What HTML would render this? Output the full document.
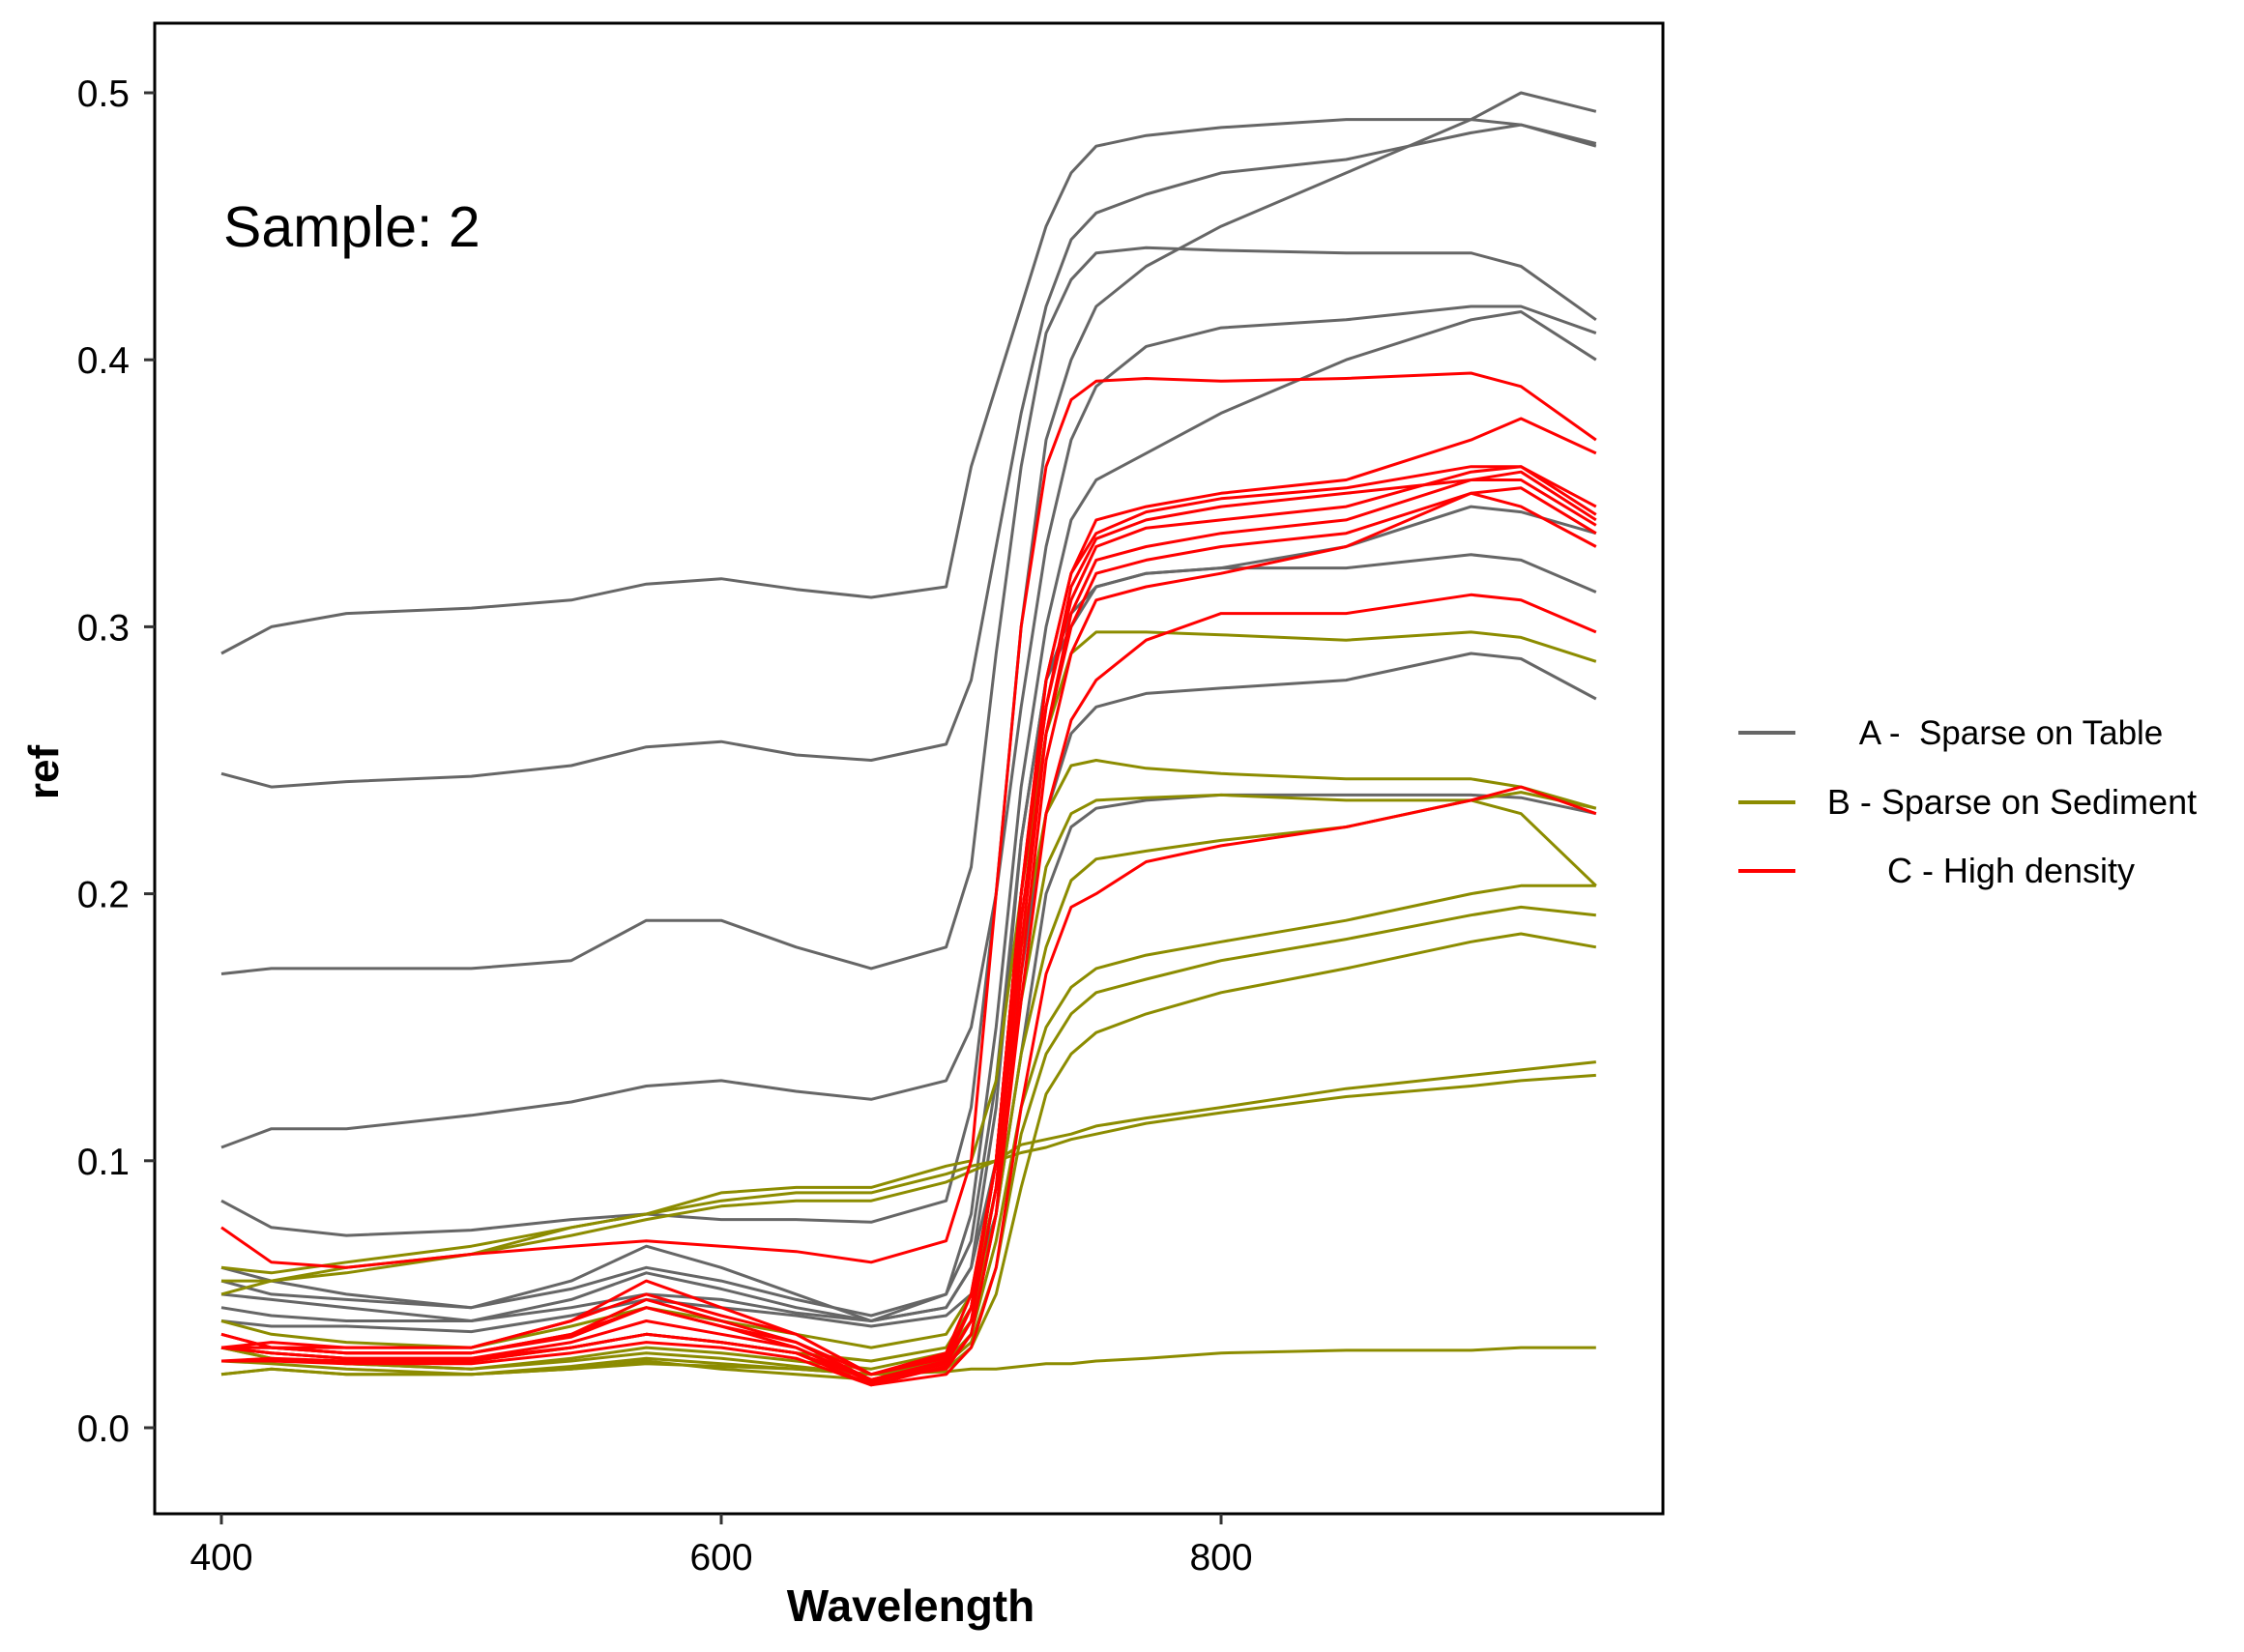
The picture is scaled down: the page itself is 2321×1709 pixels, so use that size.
<!DOCTYPE html>
<html><head><meta charset="utf-8"><style>
html,body{margin:0;padding:0;background:#fff;}
svg{display:block;font-family:"Liberation Sans",Arial,sans-serif;}
</style></head><body>
<svg id="chart" width="2321" height="1709" viewBox="0 0 2321 1709" xmlns="http://www.w3.org/2000/svg">
<rect x="0" y="0" width="2321" height="1709" fill="#fff"/>
<g id="plot"></g>
<g id="axes"></g>
<text x="231" y="255" font-size="59" fill="#000">Sample: 2</text>
<text x="942" y="1677" font-size="46" font-weight="bold" text-anchor="middle">Wavelength</text>
<text x="0" y="0" font-size="44" font-weight="bold" text-anchor="middle" transform="translate(60,799) rotate(-90)">ref</text>
<g>
  <line x1="1798" y1="758" x2="1857" y2="758" stroke="#666666" stroke-width="4"/>
  <text x="2080" y="770" font-size="35" text-anchor="middle">A -&#160; Sparse on Table</text>
  <line x1="1798" y1="830" x2="1857" y2="830" stroke="#8c8c00" stroke-width="4"/>
  <text x="2081" y="842" font-size="36" text-anchor="middle">B - Sparse on Sediment</text>
  <line x1="1798" y1="901" x2="1857" y2="901" stroke="#ff0000" stroke-width="4"/>
  <text x="2080" y="913" font-size="36" text-anchor="middle">C - High density</text>
</g>
</svg>
<script>
const wavelengths=[400,420,450,500,540,570,600,630,660,690,700,710,720,730,740,750,770,800,850,900,920,950];
const seriesA=[
[.29,.30,.305,.307,.31,.316,.318,.314,.311,.315,.36,.39,.42,.45,.47,.48,.484,.487,.49,.49,.488,.481],
[.245,.24,.242,.244,.248,.255,.257,.252,.25,.256,.28,.33,.38,.42,.445,.455,.462,.47,.475,.485,.488,.48],
[.17,.172,.172,.172,.175,.19,.19,.18,.172,.18,.21,.29,.36,.41,.43,.44,.442,.441,.44,.44,.435,.415],
[.105,.112,.112,.117,.122,.128,.13,.126,.123,.13,.15,.2,.27,.33,.37,.39,.405,.412,.415,.42,.42,.41],
[.085,.075,.072,.074,.078,.08,.078,.078,.077,.085,.12,.2,.3,.37,.4,.42,.435,.45,.47,.49,.5,.493],
[.06,.055,.05,.045,.055,.068,.06,.05,.04,.05,.08,.15,.24,.3,.34,.355,.365,.38,.4,.415,.418,.4],
[.05,.048,.045,.04,.048,.058,.052,.045,.04,.045,.06,.12,.22,.28,.3,.315,.32,.322,.322,.327,.325,.313],
[.045,.042,.04,.04,.045,.05,.048,.043,.04,.045,.06,.1,.17,.23,.26,.27,.275,.277,.28,.29,.288,.273],
[.04,.038,.038,.036,.042,.048,.045,.042,.038,.042,.05,.08,.14,.2,.225,.232,.235,.237,.237,.237,.236,.23],
[.055,.05,.048,.045,.052,.06,.055,.048,.042,.05,.07,.13,.22,.28,.305,.315,.32,.322,.33,.345,.343,.335]
];
const seriesB=[
[.05,.055,.06,.065,.075,.08,.088,.09,.09,.098,.1,.13,.2,.26,.29,.298,.298,.297,.295,.298,.296,.287],
[.04,.035,.032,.03,.038,.045,.04,.035,.03,.035,.05,.1,.18,.23,.248,.25,.247,.245,.243,.243,.24,.232],
[.03,.028,.026,.025,.03,.035,.032,.028,.025,.03,.045,.09,.16,.21,.23,.235,.236,.237,.235,.235,.23,.203],
[.03,.026,.024,.022,.026,.03,.028,.025,.022,.028,.04,.08,.14,.18,.205,.213,.216,.22,.225,.235,.238,.232],
[.03,.026,.024,.022,.025,.028,.026,.023,.02,.025,.035,.07,.12,.15,.165,.172,.177,.182,.19,.2,.203,.203],
[.025,.024,.022,.02,.023,.026,.024,.022,.02,.024,.032,.06,.11,.14,.155,.163,.168,.175,.183,.192,.195,.192],
[.02,.022,.02,.02,.022,.025,.022,.02,.018,.022,.03,.05,.09,.125,.14,.148,.155,.163,.172,.182,.185,.18],
[.06,.058,.062,.068,.075,.08,.085,.088,.088,.095,.098,.1,.106,.108,.11,.113,.116,.12,.127,.132,.134,.137],
[.055,.055,.058,.065,.072,.078,.083,.085,.085,.092,.096,.1,.103,.105,.108,.11,.114,.118,.124,.128,.13,.132],
[.02,.022,.02,.02,.022,.024,.023,.022,.02,.021,.022,.022,.023,.024,.024,.025,.026,.028,.029,.029,.03,.03]
];
const seriesC=[
[.075,.062,.06,.065,.068,.07,.068,.066,.062,.07,.1,.2,.3,.36,.385,.392,.393,.392,.393,.395,.39,.37],
[.03,.032,.03,.03,.04,.055,.045,.035,.02,.028,.05,.1,.2,.28,.32,.34,.345,.35,.355,.37,.378,.365],
[.035,.03,.03,.03,.04,.05,.042,.035,.02,.027,.045,.1,.2,.27,.31,.33,.337,.34,.345,.358,.36,.342],
[.03,.03,.028,.028,.035,.045,.038,.032,.018,.025,.04,.09,.19,.26,.305,.325,.33,.335,.34,.355,.355,.338],
[.03,.028,.026,.026,.032,.04,.035,.03,.017,.024,.04,.09,.18,.26,.3,.32,.325,.33,.335,.35,.352,.335],
[.025,.026,.025,.025,.03,.035,.032,.028,.016,.023,.035,.08,.17,.25,.29,.31,.315,.32,.33,.35,.345,.33],
[.03,.028,.026,.026,.03,.035,.032,.028,.018,.022,.035,.08,.16,.23,.265,.28,.295,.305,.305,.312,.31,.298],
[.025,.025,.024,.024,.028,.032,.03,.026,.016,.02,.03,.06,.12,.17,.195,.2,.212,.218,.225,.235,.24,.23],
[.035,.03,.028,.028,.035,.048,.04,.032,.02,.026,.045,.1,.2,.27,.315,.333,.34,.345,.35,.355,.358,.34],
[.03,.03,.028,.028,.034,.045,.038,.03,.018,.025,.045,.1,.2,.28,.32,.335,.343,.348,.352,.36,.36,.345]
];
const xTicks=[400,600,800];
const yTicks=[0,0.1,0.2,0.3,0.4,0.5];
const yTickLabels=["0.0","0.1","0.2","0.3","0.4","0.5"];

const NS="http://www.w3.org/2000/svg";
const P={l:160,t:24,r:1720,b:1566};
function xs(w){return 229+(w-400)*(1263-229)/400;}
function ys(v){return 1477-v*(1477-96)/0.5;}
const plot=document.getElementById('plot');
const axes=document.getElementById('axes');
function drawGroup(arr,color,name){
  arr.forEach((s,i)=>{
    const p=document.createElementNS(NS,'path');
    p.setAttribute('d',s.map((v,j)=>(j?'L':'M')+xs(wavelengths[j]).toFixed(1)+' '+ys(v).toFixed(1)).join(' '));
    p.setAttribute('fill','none');p.setAttribute('stroke',color);p.setAttribute('stroke-width','3');
    p.setAttribute('stroke-linejoin','round');
    
    
    plot.appendChild(p);
  });
}
drawGroup(seriesA,'#666666','sparse-table');
drawGroup(seriesB,'#8c8c00','sparse-sediment');
drawGroup(seriesC,'#ff0000','high-density');
const fr=document.createElementNS(NS,'rect');
fr.setAttribute('x',P.l);fr.setAttribute('y',P.t);fr.setAttribute('width',P.r-P.l);fr.setAttribute('height',P.b-P.t);
fr.setAttribute('fill','none');fr.setAttribute('stroke','#000');fr.setAttribute('stroke-width','3');


axes.appendChild(fr);
xTicks.forEach(t=>{
  const l=document.createElementNS(NS,'line');
  l.setAttribute('x1',xs(t));l.setAttribute('x2',xs(t));l.setAttribute('y1',P.b);l.setAttribute('y2',P.b+11);
  l.setAttribute('stroke','#333');l.setAttribute('stroke-width','3');
  
  
  axes.appendChild(l);
  const tx=document.createElementNS(NS,'text');
  tx.setAttribute('x',xs(t));tx.setAttribute('y',1624);tx.setAttribute('font-size','39');tx.setAttribute('text-anchor','middle');
  tx.textContent=t;
  
  
  axes.appendChild(tx);
});
yTicks.forEach((t,i)=>{
  const l=document.createElementNS(NS,'line');
  l.setAttribute('x1',P.l-11);l.setAttribute('x2',P.l);l.setAttribute('y1',ys(t));l.setAttribute('y2',ys(t));
  l.setAttribute('stroke','#333');l.setAttribute('stroke-width','3');
  
  
  axes.appendChild(l);
  const tx=document.createElementNS(NS,'text');
  tx.setAttribute('x',134);tx.setAttribute('y',ys(t)+14);tx.setAttribute('font-size','39');tx.setAttribute('text-anchor','end');
  tx.textContent=yTickLabels[i];
  
  
  axes.appendChild(tx);
});
</script>
</body></html>
